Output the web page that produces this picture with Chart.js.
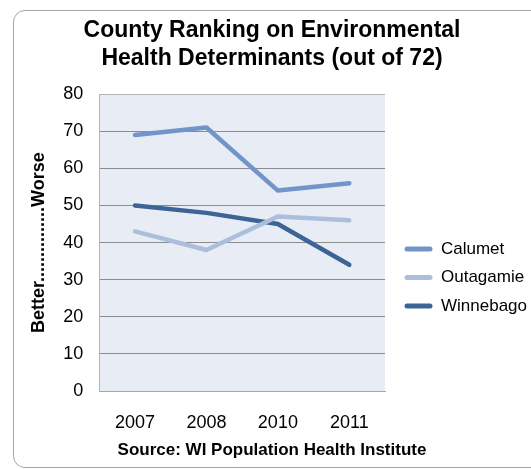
<!DOCTYPE html>
<html>
<head>
<meta charset="utf-8">
<script src="https://cdn.jsdelivr.net/npm/chart.js@4"></script>
<style>
  html, body { margin: 0; padding: 0; background: #fff; overflow: hidden; }
  #wrap { position: relative; width: 531px; height: 469px; overflow: hidden; }
  #frame { position: absolute; left: 13px; top: 10px; width: 560px; height: 456px;
           border: 1px solid #a6a6a6; border-radius: 12px; }
  #chart { position: absolute; left: 0; top: 0; }
</style>
</head>
<body>
<div id="wrap">
  <div id="frame"></div>
  <canvas id="chart" width="531" height="469"></canvas>
</div>
<script>
// data
const years = ['2007', '2008', '2010', '2011'];
const calumet = [69, 71, 54, 56];
const outagamie = [43, 38, 47, 46];
const winnebago = [50, 48, 45, 34];
const seriesNames = ['Calumet', 'Outagamie', 'Winnebago'];
const seriesColors = ['#7394c8', '#abbfdd', '#3c6497'];
const titleLines = ['County Ranking on Environmental', 'Health Determinants (out of 72)'];
const yTitle = 'Better...............Worse';
const xTitle = 'Source: WI Population Health Institute';

const FONT = "'Liberation Sans', Arial, sans-serif";

// light blue-grey plot background
const plotBackground = {
    id: 'plotBackground',
    beforeDraw(chart) {
        const a = chart.chartArea;
        const ctx = chart.ctx;
        ctx.save();
        ctx.fillStyle = '#e8edf5';
        ctx.fillRect(a.left, a.top, a.right - a.left, a.bottom - a.top);
        ctx.restore();
    }
};

function makeDataset(label, values, color) {
    return {
        label: label,
        data: values,
        borderColor: color,
        backgroundColor: color,
        borderWidth: 4.5,
        tension: 0,
        pointRadius: 0,
        pointHoverRadius: 0,
        borderCapStyle: 'round',
        borderJoinStyle: 'round'
    };
}

const ctx = document.getElementById('chart');
new Chart(ctx, {
    type: 'line',
    data: {
        labels: years,
        datasets: [
            makeDataset(seriesNames[0], calumet, seriesColors[0]),
            makeDataset(seriesNames[1], outagamie, seriesColors[1]),
            makeDataset(seriesNames[2], winnebago, seriesColors[2])
        ]
    },
    options: {
        responsive: false,
        animation: false,
        devicePixelRatio: 1,
        layout: { padding: { left: 13, top: 0, right: 0, bottom: 0 } },
        plugins: {
            tooltip: { enabled: false },
            title: {
                display: true,
                text: titleLines,
                color: '#000',
                font: { family: FONT, size: 23, weight: 'bold', lineHeight: 1.22 },
                padding: { top: 17, bottom: 21 }
            },
            subtitle: {
                display: true,
                position: 'bottom',
                text: xTitle,
                color: '#000',
                font: { family: FONT, size: 17, weight: 'bold', lineHeight: 1.2 },
                // the x scale reserves its tick padding twice, so pull the source line up into it
                padding: { top: -14, bottom: 8 }
            },
            legend: {
                position: 'right',
                maxWidth: 138,
                title: {
                    display: true,
                    text: ' ',
                    font: { family: FONT, size: 10, lineHeight: 1 },
                    padding: { top: 76, bottom: 0 }
                },
                labels: {
                    color: '#000',
                    font: { family: FONT, size: 17 },
                    boxWidth: 28,
                    boxHeight: 5,
                    padding: 11.5,
                    useBorderRadius: true,
                    borderRadius: 2.5,
                    generateLabels(chart) {
                        const items = Chart.defaults.plugins.legend.labels.generateLabels(chart);
                        items.forEach(it => { it.lineWidth = 0; });
                        return items;
                    }
                }
            }
        },
        scales: {
            x: {
                offset: true,
                grid: { display: false, drawTicks: false, offset: true },
                border: { display: true, color: '#a6a6a6', width: 1 },
                ticks: {
                    color: '#000',
                    padding: 21,
                    maxRotation: 0,
                    minRotation: 0,
                    font: { family: FONT, size: 18 }
                }
            },
            y: {
                min: 0,
                max: 80,
                ticks: {
                    stepSize: 10,
                    color: '#000',
                    padding: 16,
                    font: { family: FONT, size: 18 }
                },
                grid: {
                    drawTicks: false,
                    color: ctx => ctx.tick && ctx.tick.value === 80 ? '#b4b4b4' : '#8c8c8c',
                    lineWidth: 1
                },
                border: { display: true, color: '#b4b4b4', width: 1 },
                title: {
                    display: true,
                    text: yTitle,
                    color: '#000',
                    font: { family: FONT, size: 18, weight: 'bold', lineHeight: 1.2 },
                    padding: { top: 15, bottom: 1 }
                }
            },
            // empty spacer so the legend sits a little off the plot
            spacer: {
                type: 'linear',
                position: 'right',
                display: true,
                grid: { display: false, drawTicks: false },
                ticks: { display: false },
                border: { display: false },
                afterFit(scale) { scale.width = 8; }
            }
        }
    },
    plugins: [plotBackground]
});
</script>
</body>
</html>
